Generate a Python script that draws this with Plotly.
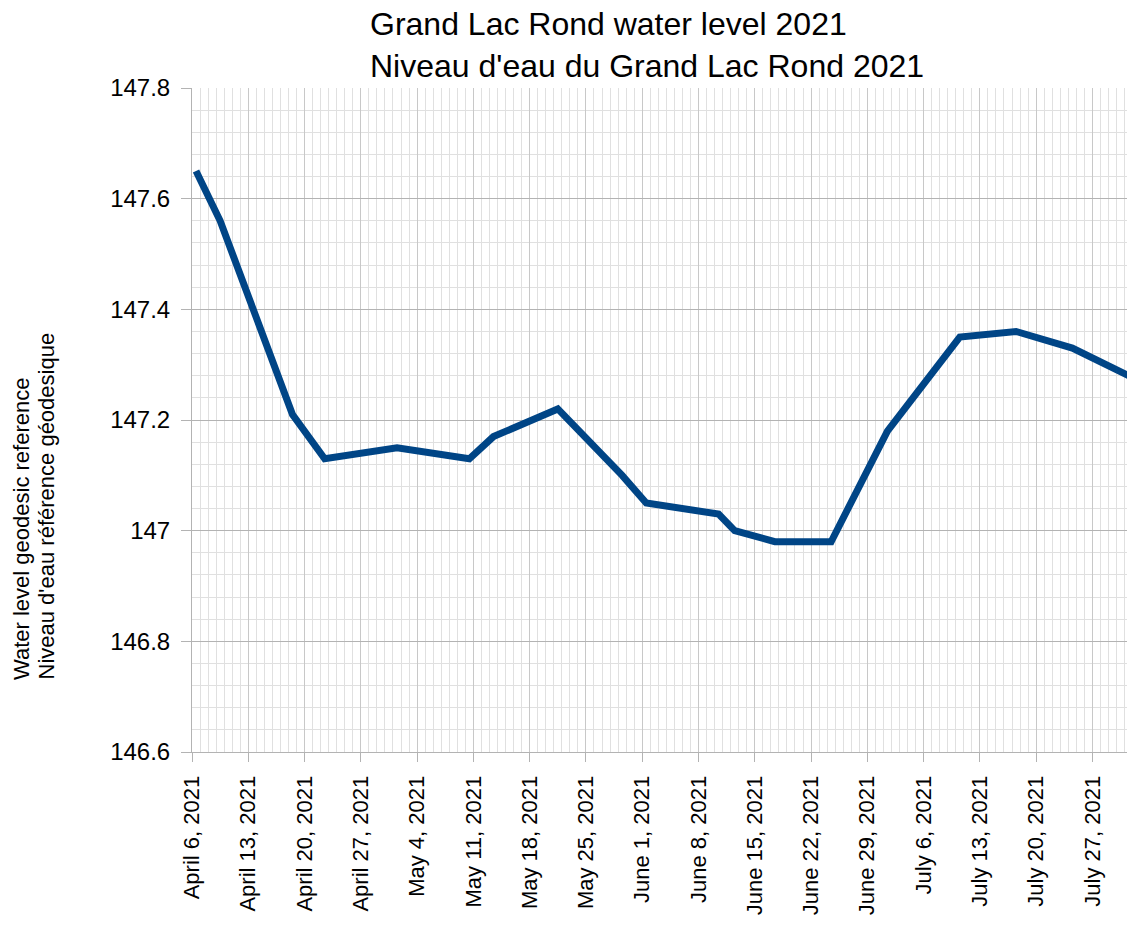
import plotly.graph_objects as go

# ---- data ----
dates = [
    "2021-04-06 12:00", "2021-04-09 12:00", "2021-04-18 12:00", "2021-04-22 12:00",
    "2021-05-01 12:00", "2021-05-10 12:00", "2021-05-13 12:00", "2021-05-21 12:00",
    "2021-05-29 12:00", "2021-06-01 12:00", "2021-06-10 12:00", "2021-06-12 12:00",
    "2021-06-17 12:00", "2021-06-24 12:00", "2021-07-01 12:00", "2021-07-10 12:00",
    "2021-07-17 12:00", "2021-07-24 12:00", "2021-07-31 12:00",
]
levels = [
    147.65, 147.56, 147.21, 147.13,
    147.15, 147.13, 147.17, 147.22,
    147.10, 147.05, 147.03, 147.00,
    146.98, 146.98, 147.18, 147.35,
    147.36, 147.33, 147.28,
]

tick_dates = [
    "2021-04-06", "2021-04-13", "2021-04-20", "2021-04-27", "2021-05-04",
    "2021-05-11", "2021-05-18", "2021-05-25", "2021-06-01", "2021-06-08",
    "2021-06-15", "2021-06-22", "2021-06-29", "2021-07-06", "2021-07-13",
    "2021-07-20", "2021-07-27",
]
tick_labels = [
    "April 6, 2021", "April 13, 2021", "April 20, 2021", "April 27, 2021", "May 4, 2021",
    "May 11, 2021", "May 18, 2021", "May 25, 2021", "June 1, 2021", "June 8, 2021",
    "June 15, 2021", "June 22, 2021", "June 29, 2021", "July 6, 2021", "July 13, 2021",
    "July 20, 2021", "July 27, 2021",
]
y_ticks = [146.6, 146.8, 147.0, 147.2, 147.4, 147.6, 147.8]
y_tick_labels = ["146.6", "146.8", "147", "147.2", "147.4", "147.6", "147.8"]

title_lines = ["Grand Lac Rond water level 2021", "Niveau d'eau du Grand Lac Rond 2021"]
y_title_line1 = "Water level geodesic reference"
y_title_line2 = "Niveau d'eau référence géodesique"

FONT = "Liberation Sans, Arial, sans-serif"
W, H = 1127, 939
L, R, T, B = 192, 0, 88, 187
PW, PH = W - L - R, H - T - B


def px_x(x):
    # page pixel -> paper coordinate
    return (x - L) / PW


def px_y(y):
    return (H - B - y) / PH


fig = go.Figure()
fig.add_trace(go.Scatter(
    x=dates, y=levels, mode="lines",
    line=dict(color="#004586", width=7),
    showlegend=False,
))

fig.update_layout(
    width=W, height=H,
    margin=dict(l=L, r=R, t=T, b=B),
    paper_bgcolor="white", plot_bgcolor="white",
    font=dict(family=FONT, color="black"),
    showlegend=False,
)

fig.update_xaxes(
    type="date",
    range=["2021-04-06 00:00", "2021-07-31 07:12"],
    tickmode="array", tickvals=tick_dates, ticktext=tick_labels,
    tickangle=-90, tickfont=dict(size=22, family=FONT, color="black"),
    ticks="outside", ticklen=9, tickcolor="#b3b3b3",
    ticklabelstandoff=5,
    showgrid=True, gridcolor="#c8c8c8", gridwidth=1,
    minor=dict(dtick=86400000, tick0="2021-04-06", showgrid=True,
               gridcolor="#e0e0e0", gridwidth=1, ticks=""),
    showline=True, linecolor="#b3b3b3", linewidth=1,
    zeroline=False,
)

fig.update_yaxes(
    range=[146.6, 147.8],
    tickmode="array", tickvals=y_ticks, ticktext=y_tick_labels,
    tickfont=dict(size=24, family=FONT, color="black"),
    ticks="outside", ticklen=10, tickcolor="#b3b3b3",
    ticklabelstandoff=6,
    showgrid=True, gridcolor="#b3b3b3", gridwidth=1,
    minor=dict(dtick=0.04, tick0=146.6, showgrid=True,
               gridcolor="#e0e0e0", gridwidth=1, ticks=""),
    showline=True, linecolor="#b3b3b3", linewidth=1,
    zeroline=False,
)

fig.add_annotation(
    text="<br>".join(title_lines), xref="paper", yref="paper",
    x=px_x(368), y=px_y(45), xanchor="left", yanchor="middle", align="left",
    showarrow=False, font=dict(size=32, family=FONT, color="black"),
)
fig.add_annotation(
    text=y_title_line1, xref="paper", yref="paper",
    x=px_x(21), y=px_y(682), xanchor="center", yanchor="bottom",
    textangle=-90,
    showarrow=False, font=dict(size=22, family=FONT, color="black"),
)
fig.add_annotation(
    text=y_title_line2, xref="paper", yref="paper",
    x=px_x(46), y=px_y(682), xanchor="center", yanchor="bottom",
    textangle=-90,
    showarrow=False, font=dict(size=22, family=FONT, color="black"),
)

fig.write_html(
    "out.html",
    config={"displayModeBar": False},
    post_script="document.body.style.margin='0';document.body.style.overflow='hidden';",
)
